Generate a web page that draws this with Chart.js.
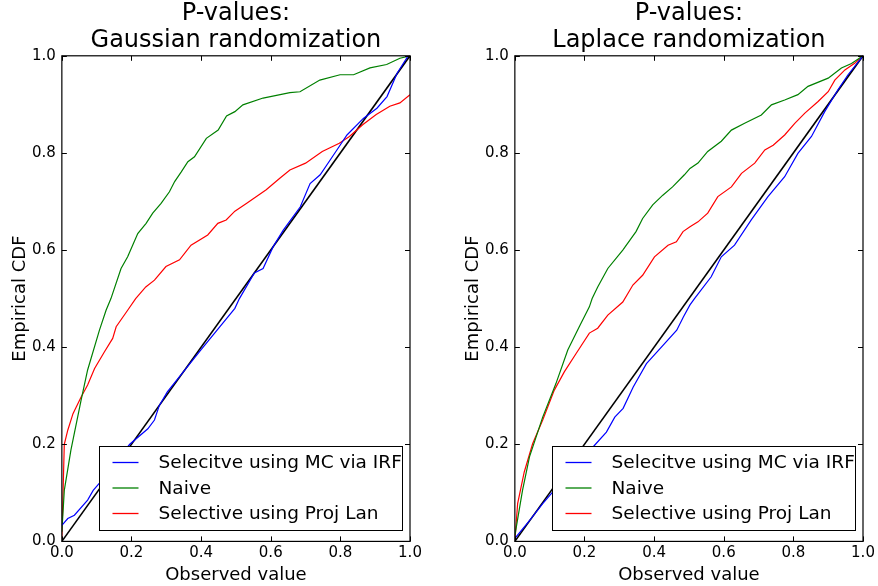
<!DOCTYPE html>
<html>
<head>
<meta charset="utf-8">
<script src="https://cdn.jsdelivr.net/npm/chart.js@4"></script>
<style>
  html, body { margin: 0; padding: 0; background: #fff; }
  #wrap { position: relative; width: 878px; height: 586px; }
  .box { position: absolute; top: 0; width: 439px; height: 586px; }
  #left { left: 0; }
  #right { left: 439px; }
</style>
</head>
<body>
<div id="wrap">
  <div class="box" id="left"><canvas id="gauss"></canvas></div>
  <div class="box" id="right"><canvas id="laplace"></canvas></div>
</div>
<script>
// legend labels
const seriesNames = ["Selecitve using MC via IRF", "Naive", "Selective using Proj Lan"];
const seriesColors = ["#0000ff", "#008000", "#ff0000"];
const tickValues = [0, 0.2, 0.4, 0.6, 0.8, 1.0];

// GAUSSIAN randomization
const gaussMcX = [0, 0.017, 0.036, 0.074, 0.09, 0.108, 0.15, 0.195, 0.247, 0.266, 0.28, 0.303, 0.4, 0.497, 0.51, 0.553, 0.578, 0.607, 0.636, 0.685, 0.713, 0.742, 0.79, 0.819, 0.866, 0.905, 0.934, 0.963, 0.993, 1];
const gaussMcY = [0.033, 0.047, 0.054, 0.085, 0.105, 0.12, 0.16, 0.2, 0.232, 0.25, 0.28, 0.308, 0.395, 0.48, 0.5, 0.553, 0.562, 0.607, 0.641, 0.689, 0.737, 0.755, 0.806, 0.837, 0.871, 0.892, 0.916, 0.964, 0.998, 1];

const gaussNaiveX = [0, 0.007, 0.026, 0.055, 0.074, 0.108, 0.127, 0.141, 0.17, 0.189, 0.218, 0.242, 0.261, 0.285, 0.309, 0.324, 0.343, 0.362, 0.381, 0.415, 0.449, 0.473, 0.497, 0.52, 0.578, 0.655, 0.684, 0.741, 0.799, 0.838, 0.885, 0.933, 0.971, 1];
const gaussNaiveY = [0.02, 0.105, 0.188, 0.29, 0.353, 0.435, 0.476, 0.5, 0.562, 0.586, 0.634, 0.655, 0.676, 0.696, 0.72, 0.741, 0.761, 0.782, 0.792, 0.83, 0.847, 0.876, 0.885, 0.899, 0.913, 0.924, 0.926, 0.95, 0.961, 0.961, 0.975, 0.982, 0.995, 1];

const gaussProjX = [0, 0.007, 0.017, 0.032, 0.055, 0.074, 0.094, 0.122, 0.146, 0.156, 0.189, 0.212, 0.241, 0.266, 0.299, 0.338, 0.371, 0.419, 0.448, 0.472, 0.497, 0.53, 0.587, 0.626, 0.655, 0.7, 0.748, 0.797, 0.826, 0.864, 0.903, 0.942, 0.971, 1];
const gaussProjY = [0.005, 0.2, 0.229, 0.263, 0.297, 0.322, 0.356, 0.39, 0.418, 0.442, 0.476, 0.5, 0.524, 0.538, 0.566, 0.58, 0.61, 0.631, 0.655, 0.662, 0.68, 0.696, 0.724, 0.748, 0.765, 0.779, 0.803, 0.82, 0.834, 0.858, 0.879, 0.896, 0.903, 0.92];

// LAPLACE randomization
const lapMcX = [0, 0.042, 0.08, 0.109, 0.17, 0.229, 0.263, 0.287, 0.311, 0.34, 0.378, 0.417, 0.465, 0.484, 0.503, 0.516, 0.564, 0.593, 0.631, 0.679, 0.727, 0.775, 0.813, 0.852, 0.89, 0.928, 0.957, 0.995, 1];
const lapMcY = [0.006, 0.043, 0.078, 0.102, 0.15, 0.198, 0.225, 0.256, 0.274, 0.318, 0.366, 0.397, 0.435, 0.462, 0.487, 0.5, 0.545, 0.586, 0.61, 0.662, 0.71, 0.751, 0.799, 0.834, 0.885, 0.93, 0.961, 0.995, 1];

const lapNaiveX = [0, 0.022, 0.042, 0.08, 0.118, 0.152, 0.185, 0.214, 0.222, 0.238, 0.267, 0.31, 0.348, 0.367, 0.396, 0.425, 0.453, 0.487, 0.503, 0.526, 0.554, 0.593, 0.622, 0.66, 0.708, 0.737, 0.775, 0.813, 0.842, 0.9, 0.938, 0.967, 1];
const lapNaiveY = [0.012, 0.105, 0.174, 0.256, 0.325, 0.394, 0.442, 0.483, 0.5, 0.524, 0.562, 0.6, 0.638, 0.665, 0.693, 0.713, 0.73, 0.755, 0.768, 0.779, 0.803, 0.824, 0.847, 0.861, 0.878, 0.899, 0.909, 0.92, 0.937, 0.954, 0.975, 0.984, 1];

const lapProjX = [0, 0.008, 0.027, 0.051, 0.08, 0.113, 0.142, 0.176, 0.214, 0.238, 0.267, 0.31, 0.339, 0.367, 0.401, 0.44, 0.464, 0.483, 0.503, 0.526, 0.554, 0.583, 0.622, 0.651, 0.689, 0.718, 0.742, 0.775, 0.804, 0.833, 0.871, 0.9, 0.919, 0.948, 0.977, 1];
const lapProjY = [0, 0.078, 0.143, 0.201, 0.25, 0.311, 0.349, 0.387, 0.429, 0.439, 0.466, 0.493, 0.528, 0.548, 0.586, 0.61, 0.617, 0.638, 0.648, 0.658, 0.676, 0.71, 0.73, 0.758, 0.779, 0.806, 0.816, 0.837, 0.861, 0.882, 0.906, 0.926, 0.95, 0.971, 0.985, 1];

// diagonal reference
const diagX = [0, 1];
const diagY = [0, 1];

const pts = (xs, ys) => xs.map((x, i) => ({ x: x, y: ys[i] }));

/* frame, inward ticks and legend inside the plot */
const mplFrame = {
  id: "mplFrame",
  afterDatasetsDraw(chart) {
    const ctx = chart.ctx;
    const a = chart.chartArea;
    const sx = chart.scales.x, sy = chart.scales.y;
    ctx.save();
    ctx.strokeStyle = "#000";
    ctx.lineWidth = 1;
    // ticks on all four sides, pointing in
    ctx.beginPath();
    tickValues.forEach((v) => {
      const px = Math.round(sx.getPixelForValue(v)) + 0.5;
      ctx.moveTo(px, a.bottom); ctx.lineTo(px, a.bottom - 5);
      ctx.moveTo(px, a.top); ctx.lineTo(px, a.top + 5);
      const py = Math.round(sy.getPixelForValue(v)) + 0.5;
      ctx.moveTo(a.left, py); ctx.lineTo(a.left + 5, py);
      ctx.moveTo(a.right, py); ctx.lineTo(a.right - 5, py);
    });
    ctx.stroke();

    // legend box
    const lx = Math.round(a.left) + 37.5, ly = Math.round(a.bottom) - 94.5, lw = 303, lh = 84;
    ctx.fillStyle = "#fff";
    ctx.fillRect(lx, ly, lw, lh);
    ctx.strokeRect(lx, ly, lw, lh);
    ctx.font = "18.5px 'DejaVu Sans'";
    ctx.textBaseline = "middle";
    ctx.textAlign = "left";
    seriesNames.forEach((name, i) => {
      const y = ly + 16 + i * 25.5;
      ctx.lineWidth = 1.3;
      ctx.strokeStyle = chart.data.datasets[i].borderColor;
      ctx.beginPath();
      ctx.moveTo(lx + 13, y);
      ctx.lineTo(lx + 39, y);
      ctx.stroke();
      ctx.fillStyle = "#000";
      ctx.fillText(name, lx + 59, y + 1);
    });

    // axes frame
    ctx.strokeStyle = "#000";
    ctx.lineWidth = 1.2;
    ctx.strokeRect(a.left, a.top, a.right - a.left, a.bottom - a.top);
    ctx.restore();
  },
};

function makeChart(id, title, mc, naive, proj, pad) {
  const ds = (data, color, w) => ({
    data: data,
    borderColor: color,
    borderWidth: w,
    pointRadius: 0,
    tension: 0,
    fill: false,
  });
  return new Chart(document.getElementById(id), {
    type: "line",
    data: {
      datasets: [
        ds(pts(mc[0], mc[1]), seriesColors[0], 1.2),
        ds(pts(naive[0], naive[1]), seriesColors[1], 1.2),
        ds(pts(proj[0], proj[1]), seriesColors[2], 1.2),
        ds(pts(diagX, diagY), "#000", 1.6),
      ],
    },
    options: {
      responsive: true,
      maintainAspectRatio: false,
      animation: false,
      layout: { padding: pad },
      plugins: {
        legend: { display: false },
        tooltip: { enabled: false },
        title: {
          display: true,
          text: title,
          color: "#000",
          fullSize: false,
          font: { family: "DejaVu Sans", size: 24, weight: "normal", lineHeight: 1.1 },
          padding: { top: 1, bottom: 2 },
        },
      },
      scales: {
        x: {
          type: "linear",
          min: 0,
          max: 1,
          grid: { display: false, drawTicks: false },
          border: { display: false },
          ticks: {
            stepSize: 0.2,
            color: "#000",
            padding: 3,
            maxRotation: 0,
            font: { family: "DejaVu Sans", size: 15 },
            callback: (v) => v.toFixed(1),
          },
          title: {
            display: true,
            text: "Observed value",
            color: "#000",
            padding: { top: -1, bottom: 0 },
            font: { family: "DejaVu Sans", size: 18 },
          },
        },
        y: {
          type: "linear",
          min: 0,
          max: 1,
          grid: { display: false, drawTicks: false },
          border: { display: false },
          ticks: {
            stepSize: 0.2,
            color: "#000",
            padding: 6,
            font: { family: "DejaVu Sans", size: 15 },
            callback: (v) => v.toFixed(1),
          },
          title: {
            display: true,
            text: "Empirical CDF",
            color: "#000",
            padding: { top: 10, bottom: -5.6 },
            font: { family: "DejaVu Sans", size: 18 },
          },
        },
      },
    },
    plugins: [mplFrame],
  });
}

makeChart("gauss", ["P-values:", "Gaussian randomization"],
  [gaussMcX, gaussMcY], [gaussNaiveX, gaussNaiveY], [gaussProjX, gaussProjY],
  { left: 0, right: 29, top: 0, bottom: 0 });

makeChart("laplace", ["P-values:", "Laplace randomization"],
  [lapMcX, lapMcY], [lapNaiveX, lapNaiveY], [lapProjX, lapProjY],
  { left: 14, right: 15, top: 0, bottom: 0 });
</script>
</body>
</html>
